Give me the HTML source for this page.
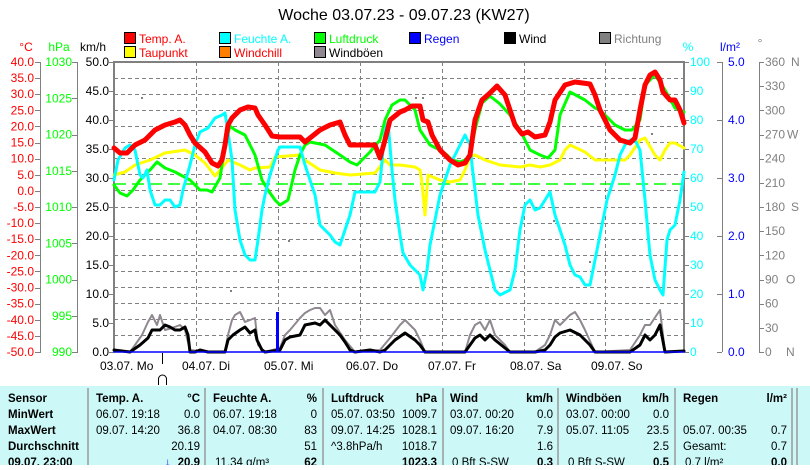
<!DOCTYPE html>
<html><head><meta charset="utf-8"><style>
body{margin:0;background:#fff;width:810px;height:465px;overflow:hidden;font-family:"Liberation Sans",sans-serif}
svg text{font-family:"Liberation Sans",sans-serif}
</style></head><body>
<svg width="810" height="465" xmlns="http://www.w3.org/2000/svg">
<text x="404" y="20" font-size="16" text-anchor="middle">Woche 03.07.23 - 09.07.23 (KW27)</text>
<g font-size="12">
<rect x="124.5" y="32.5" width="11" height="11" fill="#f00" stroke="#000"/><text x="139" y="43" fill="#f00">Temp. A.</text>
<rect x="219.5" y="32.5" width="11" height="11" fill="#0ff" stroke="#000"/><text x="234" y="43" fill="#0ff">Feuchte A.</text>
<rect x="314.5" y="32.5" width="11" height="11" fill="#0f0" stroke="#000"/><text x="329" y="43" fill="#0f0">Luftdruck</text>
<rect x="409.5" y="32.5" width="11" height="11" fill="#00f" stroke="#000"/><text x="424" y="43" fill="#00f">Regen</text>
<rect x="504.5" y="32.5" width="11" height="11" fill="#000" stroke="#000"/><text x="519" y="43" fill="#000">Wind</text>
<rect x="599.5" y="32.5" width="11" height="11" fill="#808080" stroke="#000"/><text x="614" y="43" fill="#808080">Richtung</text>
<rect x="124.5" y="46.5" width="11" height="11" fill="#ff0" stroke="#000"/><text x="139" y="57" fill="#f00">Taupunkt</text>
<rect x="219.5" y="46.5" width="11" height="11" fill="#ff8000" stroke="#000"/><text x="234" y="57" fill="#f00">Windchill</text>
<rect x="314.5" y="46.5" width="11" height="11" fill="#908890" stroke="#000"/><text x="329" y="57" fill="#000">Windböen</text>
<text x="26" y="51" fill="#f00" text-anchor="middle">°C</text>
<text x="59" y="51" fill="#0f0" text-anchor="middle">hPa</text>
<text x="93" y="51" fill="#000" text-anchor="middle">km/h</text>
<text x="688" y="51" fill="#0ff" text-anchor="middle">%</text>
<text x="730" y="51" fill="#00f" text-anchor="middle">l/m²</text>
<text x="760" y="47" fill="#808080" text-anchor="middle">°</text>
</g>
<g stroke="#808080" stroke-dasharray="4,3" stroke-width="1">
<path d="M114 78.5H684M114 94.5H684M114 110.5H684M114 126.5H684M114 142.5H684M114 158.5H684M114 174.5H684M114 190.5H684M114 207.5H684M114 223.5H684M114 239.5H684M114 255.5H684M114 271.5H684M114 287.5H684M114 303.5H684M114 319.5H684M114 335.5H684"/>
<path d="M196.5 62V352M278.5 62V352M360.5 62V352M442.5 62V352M524.5 62V352M605.5 62V352"/>
</g>
<path d="M114 184H684" stroke="#0f0" stroke-dasharray="12,6" stroke-width="1.5"/>
<g stroke="#808080" stroke-width="2" fill="none"><path d="M114 352V62H684V352"/></g>
<g stroke="#808080" stroke-width="1" fill="none">
<path d="M40.5 62V352M77.5 62V352M722.5 62V352M759.5 62V352"/>
</g>
<g font-size="12">
<g fill="#f00" text-anchor="end" id="c"></g>
<g fill="#0f0" text-anchor="end" id="h"></g>
<g fill="#000" text-anchor="end" id="k"></g>
<g fill="#0ff" id="p"></g>
<g fill="#00f" id="l"></g>
<g fill="#808080" id="d"></g>
</g>
<g id="ticks" stroke="#808080"></g>
<g fill="none" stroke-linejoin="round" stroke-linecap="round">
<polyline stroke="#908890" stroke-width="2" points="114,350 130,352 135,345 142,335 148,322 152,315 157,325 160,315 165,330 172,328 180,325 185,330 190,350 200,351 208,352 225,352 228,335 232,320 235,315 240,312 245,322 250,320 255,318 258,345 265,352 280,348 285,335 290,330 300,318 305,313 310,310 315,308 320,308 325,315 330,310 335,325 345,340 355,352 380,350 390,338 400,325 405,320 415,330 420,340 425,352 465,352 470,335 475,325 480,322 485,330 490,320 495,335 505,345 510,352 535,352 545,345 550,335 555,320 560,325 570,315 575,312 580,320 585,330 595,352 630,350 640,335 645,325 650,325 660,310 665,352 684,351"/>
<polyline stroke="#000" stroke-width="3" points="114,350 130,352 140,345 148,338 152,330 160,330 165,325 170,327 175,330 180,330 185,327 188,335 190,352 195,352 200,350 208,352 225,352 228,340 233,335 240,330 245,327 250,333 255,330 257,340 262,350 265,352 280,350 285,340 290,337 300,335 305,325 315,323 320,325 325,320 330,325 340,335 345,342 350,350 355,352 370,350 380,352 385,350 390,345 395,340 405,333 415,340 420,345 425,352 465,352 470,345 475,338 480,335 485,340 490,335 495,340 505,348 510,352 535,352 545,350 550,345 555,337 560,333 570,330 580,335 590,345 595,352 630,352 640,345 645,335 650,340 655,335 660,325 665,352 684,351"/>
<path d="M114 352H684" stroke="#00f" stroke-width="1.5"/>
<path d="M277.5 352V312" stroke="#00f" stroke-width="3" stroke-linecap="butt"/>
<polyline stroke="#ff0" stroke-width="3" points="114,175 125,172 135,165 150,160 165,153 185,150 195,155 205,163 215,176 222,168 228,160 240,165 250,170 255,168 270,167 275,157 300,155 305,160 320,170 335,173 350,175 375,173 385,160 390,165 400,165 415,167 420,170 422,183 425,215 428,175 440,180 450,182 460,180 465,170 470,157 475,155 485,160 500,165 520,167 530,165 540,167 550,165 560,160 565,150 570,145 585,152 595,160 610,160 625,160 630,155 640,140 645,138 655,155 660,160 665,150 670,143 675,143 684,148"/>
<polyline stroke="#0f0" stroke-width="3" points="114,185 120,193 127,196 133,190 140,180 150,170 157,162 165,168 175,172 190,180 200,190 207,190 212,192 220,178 225,145 230,126 235,130 245,135 255,155 262,180 268,190 275,200 280,205 288,200 295,170 300,155 305,145 310,142 325,145 340,155 350,162 357,165 370,152 380,140 385,120 392,105 400,100 405,100 410,105 415,110 420,130 430,145 440,150 447,155 452,160 460,162 465,160 470,155 475,130 482,103 490,96 500,104 510,115 520,130 530,150 540,155 548,158 555,150 560,115 570,92 585,100 595,108 600,110 615,125 625,130 632,130 640,120 645,85 655,75 665,90 675,108 684,112"/>
<polyline stroke="#0ff" stroke-width="3" points="114,180 118,160 125,148 130,145 135,150 140,175 143,178 147,170 150,190 155,205 160,205 165,200 170,200 175,207 180,205 183,190 190,165 195,145 200,132 208,128 215,118 222,115 225,113 227,125 232,160 235,210 240,240 245,255 250,260 255,260 258,240 262,210 265,195 270,175 278,150 280,147 300,147 305,165 315,195 320,225 325,230 330,235 335,242 340,245 345,230 350,215 355,192 375,192 380,182 385,130 388,122 392,170 395,200 400,235 403,253 410,265 420,275 423,290 427,270 430,245 435,220 440,195 450,165 460,145 465,135 470,145 472,165 478,215 485,250 495,290 500,295 510,290 515,270 520,230 525,205 530,200 535,210 540,208 545,200 550,192 555,215 565,245 570,265 575,275 580,277 585,285 590,285 595,260 600,235 607,200 615,175 620,155 625,145 630,140 635,140 640,150 645,200 650,255 655,280 660,290 663,295 667,240 670,230 675,225 680,200 684,172"/>
<polyline stroke="#f00" stroke-width="5" points="114,148 120,153 127,153 135,145 145,140 155,130 165,125 175,122 180,120 185,125 190,135 195,143 205,152 212,163 218,166 222,160 225,145 228,125 232,118 240,110 248,107 255,108 258,115 265,125 272,136 280,137 300,137 305,142 310,138 320,130 330,125 340,122 345,135 350,145 375,145 380,158 385,140 390,120 400,112 405,110 412,106 420,106 423,120 428,122 432,135 440,150 450,160 458,165 465,163 470,155 475,120 482,100 490,93 497,86 505,95 510,110 515,125 522,134 528,132 535,137 545,135 550,122 555,100 565,85 575,82 590,84 595,95 600,110 610,130 620,140 630,143 635,138 640,110 645,85 650,75 655,72 660,80 663,92 670,100 675,100 680,110 684,123"/>
</g>
<g fill="#808080"><rect x="141" y="97" width="2" height="2"/><rect x="415" y="97" width="2" height="2"/><rect x="422" y="97" width="2" height="2"/><rect x="651" y="133" width="2" height="2"/><rect x="288" y="240" width="2" height="2"/><rect x="230" y="290" width="2" height="2"/><rect x="553" y="220" width="2" height="2"/><rect x="589" y="261" width="2" height="2"/></g>
<g font-size="12" fill="#000">
<text x="100" y="370">03.07.  Mo</text><text x="182" y="370">04.07.  Di</text><text x="264" y="370">05.07.  Mi</text><text x="346" y="370">06.07.  Do</text><text x="428" y="370">07.07.  Fr</text><text x="510" y="370">08.07.  Sa</text><text x="591" y="370">09.07.  So</text>
</g>
<path d="M162.5 353V364" stroke="#000"/>
<path d="M158.5 385V379A4 4 0 0 1 166.5 379V385" stroke="#000" fill="none"/>
<rect x="0" y="386" width="810" height="79" fill="#ccf8f8"/>
<g stroke="#999" stroke-width="1.5"><path d="M88 388V465M205 388V465M323 388V465M443 388V465M558 388V465M675 388V465M792 388V465M797 388V465"/></g>
<g font-size="11.5" fill="#000">
<g font-weight="bold"><text x="8" y="402">Sensor</text><text x="8" y="418">MinWert</text><text x="8" y="434">MaxWert</text><text x="8" y="450">Durchschnitt</text><text x="8" y="466">09.07. 23:00</text>
<text x="96" y="402">Temp. A.</text><text x="200" y="402" text-anchor="end">°C</text>
<text x="213" y="402">Feuchte A.</text><text x="317" y="402" text-anchor="end">%</text>
<text x="331" y="402">Luftdruck</text><text x="437" y="402" text-anchor="end">hPa</text>
<text x="450" y="402">Wind</text><text x="553" y="402" text-anchor="end">km/h</text>
<text x="566" y="402">Windböen</text><text x="669" y="402" text-anchor="end">km/h</text>
<text x="683" y="402">Regen</text><text x="787" y="402" text-anchor="end">l/m²</text>
<text x="200" y="466" text-anchor="end">20.9</text><text x="317" y="466" text-anchor="end">62</text><text x="437" y="466" text-anchor="end">1023.3</text><text x="553" y="466" text-anchor="end">0.3</text><text x="669" y="466" text-anchor="end">0.5</text><text x="787" y="466" text-anchor="end">0.0</text></g>
<text x="96" y="418">06.07.  19:18</text><text x="200" y="418" text-anchor="end">0.0</text>
<text x="96" y="434">09.07.  14:20</text><text x="200" y="434" text-anchor="end">36.8</text>
<text x="200" y="450" text-anchor="end">20.19</text>
<text x="213" y="418">06.07.  19:18</text><text x="317" y="418" text-anchor="end">0</text>
<text x="213" y="434">04.07.  08:30</text><text x="317" y="434" text-anchor="end">83</text>
<text x="317" y="450" text-anchor="end">51</text><text x="215" y="466">11.34 g/m³</text>
<text x="331" y="418">05.07.  03:50</text><text x="437" y="418" text-anchor="end">1009.7</text>
<text x="331" y="434">09.07.  14:25</text><text x="437" y="434" text-anchor="end">1028.1</text>
<text x="331" y="450">^3.8hPa/h</text><text x="437" y="450" text-anchor="end">1018.7</text>
<text x="450" y="418">03.07.  00:20</text><text x="553" y="418" text-anchor="end">0.0</text>
<text x="450" y="434">09.07.  16:20</text><text x="553" y="434" text-anchor="end">7.9</text>
<text x="553" y="450" text-anchor="end">1.6</text><text x="452" y="466">0 Bft S-SW</text>
<text x="566" y="418">03.07.  00:00</text><text x="669" y="418" text-anchor="end">0.0</text>
<text x="566" y="434">05.07.  11:05</text><text x="669" y="434" text-anchor="end">23.5</text>
<text x="669" y="450" text-anchor="end">2.5</text><text x="568" y="466">0 Bft S-SW</text>
<text x="683" y="434">05.07.  00:35</text><text x="787" y="434" text-anchor="end">0.7</text>
<text x="683" y="450">Gesamt:</text><text x="787" y="450" text-anchor="end">0.7</text>
<text x="685" y="466">0.7 l/m²</text>
<text x="165" y="466" fill="#00f">↓</text>
</g>
</svg>
<script>
var ns="http://www.w3.org/2000/svg";
function T(g,x,y,s){var t=document.createElementNS(ns,"text");t.setAttribute("x",x);t.setAttribute("y",y);t.textContent=s;document.getElementById(g).appendChild(t);}
var tk=document.getElementById("ticks");
function L(x1,y,x2){var l=document.createElementNS(ns,"path");l.setAttribute("d","M"+x1+" "+(Math.round(y)+.5)+"H"+x2);tk.appendChild(l);}
for(var i=0;i<=18;i++){var y=62+i*290/18;T("c",34,y+4,(40-5*i).toFixed(1));L(35,y,41);}
for(var i=0;i<=8;i++){var y=62+i*290/8;T("h",72,y+4,1030-5*i);L(72,y,78);}
for(var i=0;i<=10;i++){var y=62+i*29;T("k",109,y+4,(50-5*i).toFixed(1));L(109,y,114);}
for(var i=0;i<=10;i++){var y=62+i*29;T("p",690,y+4,100-10*i);L(684,y,689);}
for(var i=0;i<=5;i++){var y=62+i*58;T("l",728,y+4,(5-i).toFixed(1));L(717,y,722);}
var dl={0:"N",3:"W",6:"S",9:"O",12:"N"};
for(var i=0;i<=12;i++){var y=62+i*290/12;var v=360-30*i;T("d",765,y+4,String(v));if(dl[i]){T("d",i==6||i==0?791:(i==3?787:786),y+4,dl[i]);}L(759,y,764);}
</script>
</body></html>
